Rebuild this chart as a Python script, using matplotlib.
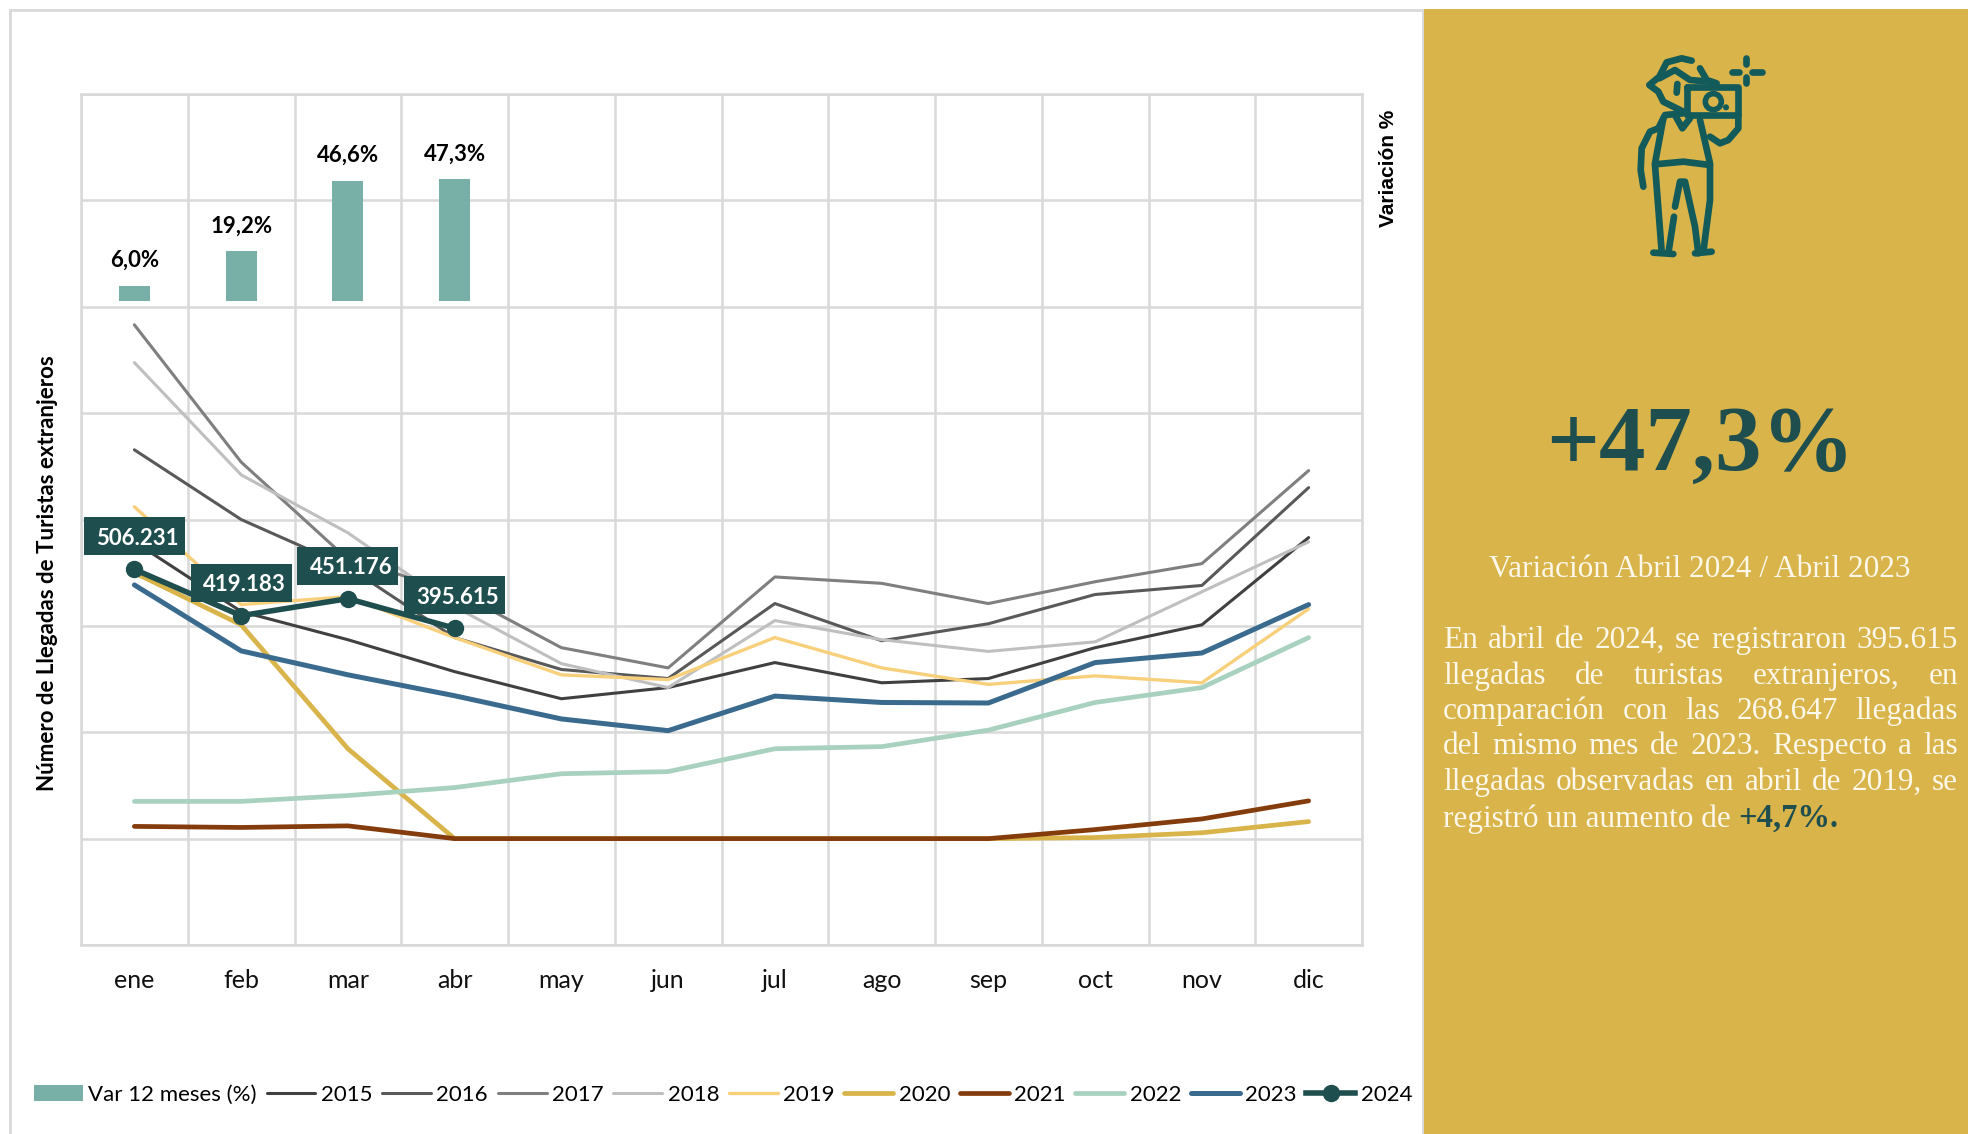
import numpy as np
import matplotlib
matplotlib.use("Agg")
import matplotlib.pyplot as plt
from matplotlib.patches import Rectangle, Circle, Ellipse

# Datos
meses = ["ene", "feb", "mar", "abr", "may", "jun", "jul", "ago", "sep", "oct", "nov", "dic"]
var_12 = [6.0, 19.2, 46.6, 47.3]
var_12_labels = ["6,0%", "19,2%", "46,6%", "47,3%"]

y2015 = [558000, 427000, 374000, 314000, 263000, 284000, 331000, 293000, 301000, 359000, 402000, 566000]
y2016 = [731000, 600000, 511000, 378000, 318000, 301000, 442000, 372000, 404000, 459000, 476000, 660000]
y2017 = [966000, 708000, 525000, 466000, 359000, 321000, 492000, 480000, 442000, 483000, 517000, 692000]
y2018 = [895000, 684000, 575000, 436000, 329000, 284000, 410000, 374000, 352000, 370000, 464000, 558000]
y2019 = [624000, 440000, 455000, 378000, 308000, 299000, 378000, 321000, 290000, 306000, 293000, 432000]
y2020 = [500000, 402000, 169000, 0, 0, 0, 0, 0, 0, 2000, 11000, 32000]
y2021 = [23000, 21000, 24000, 0, 0, 0, 0, 0, 0, 17000, 37000, 71000]
y2022 = [70000, 70000, 81000, 96000, 122000, 126000, 169000, 173000, 204000, 256000, 284000, 378000]
y2023 = [477000, 353000, 308000, 268647, 225000, 203000, 268000, 256000, 255000, 331000, 349000, 440000]
y2024 = [506231, 419183, 451176, 395615]
y2024_labels = ["506.231", "419.183", "451.176", "395.615"]

GOLD = "#d8b44b"
DARK = "#1f4e4f"
GRID = "#d9d9d9"
ICON = "#135a5a"
SANS = "Lato"
SERIF = "Liberation Serif"

W, H = 1968, 1134
fig = plt.figure(figsize=(W / 100, H / 100), dpi=100, facecolor="white")

# fondo en pixeles: marco, panel e icono
bg = fig.add_axes([0, 0, 1, 1], zorder=-1)
bg.set_xlim(0, W)
bg.set_ylim(H, 0)
bg.axis("off")
bg.add_patch(Rectangle((10, 10), 1413, H, fc="white", ec=GRID, lw=2))
bg.add_patch(Rectangle((1424, 9), W - 1424, H, fc=GOLD, ec="none"))

# grafico de lineas
ax = fig.add_axes([81 / W, 1 - 945 / H, 1281 / W, 851 / H])
x = np.arange(12)
series = [
    ("2015", y2015, "#404040", 2.2),
    ("2016", y2016, "#595959", 2.2),
    ("2017", y2017, "#7f7f7f", 2.2),
    ("2018", y2018, "#bfbfbf", 2.2),
    ("2019", y2019, "#f8d07c", 2.4),
    ("2020", y2020, "#d9b44a", 3.4),
    ("2021", y2021, "#843c0c", 3.4),
    ("2022", y2022, "#a9d1bf", 3.4),
    ("2023", y2023, "#3a6b8f", 3.6),
]
handles = []
for name, vals, color, lw in series:
    ln, = ax.plot(x, vals, color=color, lw=lw, solid_capstyle="round", solid_joinstyle="round", label=name, zorder=3)
    handles.append(ln)
ln24, = ax.plot(x[:4], y2024, color=DARK, lw=4, marker="o", ms=11.5, label="2024", zorder=4)
handles.append(ln24)

ax.set_xlim(-0.5, 11.5)
ax.set_ylim(-200000, 1400000)
ax.set_yticks(np.arange(-200000, 1400001, 200000))
ax.set_yticklabels([])
ax.set_xticks(x)
ax.set_xticklabels(meses, fontsize=18, family=SANS, color="#111111")
ax.set_xticks(np.arange(-0.5, 12), minor=True)
ax.tick_params(which="both", length=0)
ax.tick_params(axis="x", which="major", pad=17)
ax.grid(which="minor", axis="x", color=GRID, lw=1.8)
ax.grid(which="major", axis="y", color=GRID, lw=1.8)
ax.set_axisbelow(True)
for s in ax.spines.values():
    s.set_color(GRID)
    s.set_linewidth(1.8)

# etiquetas 2024
px_val = 1600000 / 851
for i, v in enumerate(y2024):
    b = v + 14 * px_val
    ax.add_patch(Rectangle((i - 0.473, b), 0.946, 38 * px_val, fc=DARK, ec="none", zorder=6))
    ax.text(i + 0.03, b + 17 * px_val, y2024_labels[i], color="white", fontsize=16, family=SANS,
            weight="bold", ha="center", va="center", zorder=7)

# barras en eje secundario
ax2 = ax.twinx()
ax2.set_ylim(-(945 - 301) / 2.58, (301 - 94) / 2.58)
bars = ax2.bar(x[:4], var_12, width=0.29, color="#78b0a7", label="Var 12 meses (%)", zorder=3)
for i, v in enumerate(var_12):
    ax2.annotate(var_12_labels[i], (i, v), xytext=(0, 10.5), textcoords="offset points", ha="center", va="bottom",
                 fontsize=16, family=SANS, weight="bold", color="black")
ax2.set_yticks([])
for s in ax2.spines.values():
    s.set_visible(False)

fig.text(48 / W, 1 - 573 / H, "Número de Llegadas de Turistas extranjeros", rotation=90, ha="center", va="center",
         fontsize=16, family=SANS, weight="bold", color="black")
fig.text(1389 / W, 1 - 168 / H, "Variación %", rotation=90, ha="center", va="center",
         fontsize=15, family="Liberation Sans", weight="bold", color="black")

leg = fig.legend([bars] + handles, ["Var 12 meses (%)"] + [h.get_label() for h in handles],
                 loc="center left", bbox_to_anchor=(34 / W, 1 - 1095 / H), ncol=11, frameon=False,
                 prop={"family": SANS, "size": 16}, handlelength=2.2, handletextpad=0.25,
                 columnspacing=0.43, borderpad=0, borderaxespad=0)

# icono
def p(pts):
    xs = [1600 + a / 3 for a, b in pts]
    ys = [30 + b / 3 for a, b in pts]
    return xs, ys

strokes = [
    [(275, 92), (245, 85), (200, 97), (178, 140), (148, 165), (175, 185), (190, 215), (250, 245)],
    [(178, 145), (225, 120), (270, 150), (330, 155)],
    [(300, 115), (320, 150), (350, 160)],
    [(232, 162), (230, 188)],
    [(262, 170), (415, 170), (415, 255), (262, 255), (262, 170)],
    [(415, 255), (415, 295), (385, 330), (360, 340), (330, 320)],
    [(250, 250), (195, 255), (175, 295), (150, 305), (125, 355), (122, 420), (130, 470)],
    [(190, 265), (165, 400)],
    [(225, 255), (247, 295), (270, 265)],
    [(300, 270), (330, 400)],
    [(165, 403), (250, 395), (330, 405)],
    [(165, 405), (185, 665)],
    [(330, 405), (330, 510), (310, 665)],
    [(225, 530), (240, 455), (255, 455), (285, 590), (295, 670)],
    [(222, 560), (205, 670)],
    [(160, 668), (220, 672)],
    [(285, 670), (335, 665)],
    [(438, 85), (438, 103)],
    [(395, 125), (418, 125)],
    [(455, 125), (485, 125)],
    [(438, 140), (438, 160)],
]
for st in strokes:
    xs, ys = p(st)
    bg.plot(xs, ys, color=ICON, lw=4.8, solid_capstyle="round", solid_joinstyle="round")
bg.add_patch(Circle((1600 + 340 / 3, 30 + 215 / 3), 8, fc="none", ec=ICON, lw=4))
bg.add_patch(Ellipse((1600 + 378 / 3, 30 + 232 / 3), 6, 6, fc=ICON, ec="none"))

# panel derecho
fig.text(1700 / W, 1 - 470 / H, "+47,3%", color=DARK, fontsize=67, family=SERIF, weight="bold", ha="center", va="baseline")
CREAM = "#fdf8ea"
fig.text(1700 / W, 1 - 577 / H, "Variación Abril 2024 / Abril 2023", color=CREAM, fontsize=22.5, family=SERIF,
         ha="center", va="baseline")

lineas = [
    ("En abril de 2024, se registraron 395.615", 648),
    ("llegadas de turistas extranjeros, en", 684),
    ("comparación con las 268.647 llegadas", 719),
    ("del mismo mes de 2023. Respecto a las", 754),
    ("llegadas observadas en abril de 2019, se", 790),
]
L, R = 1443, 1958
FS = 22.5
renderer = fig.canvas.get_renderer()

def word_w(t):
    return t.get_window_extent(renderer).width

for linea, yb in lineas:
    words = [fig.text(0, 1 - yb / H, w, color=CREAM, fontsize=FS, family=SERIF, va="baseline") for w in linea.split()]
    widths = [word_w(t) for t in words]
    gap = (R - L - sum(widths)) / (len(words) - 1)
    cx = L
    for t, w in zip(words, widths):
        t.set_x(cx / W)
        cx += w + gap

t1 = fig.text(L / W, 1 - 827 / H, "registró un aumento de", color=CREAM, fontsize=FS, family=SERIF, va="baseline")
fig.text((L + word_w(t1) + 8) / W, 1 - 827 / H, "+4,7%.", color=DARK, fontsize=FS + 1, family=SERIF, weight="bold", va="baseline")

fig.savefig("out.png", dpi=100)
